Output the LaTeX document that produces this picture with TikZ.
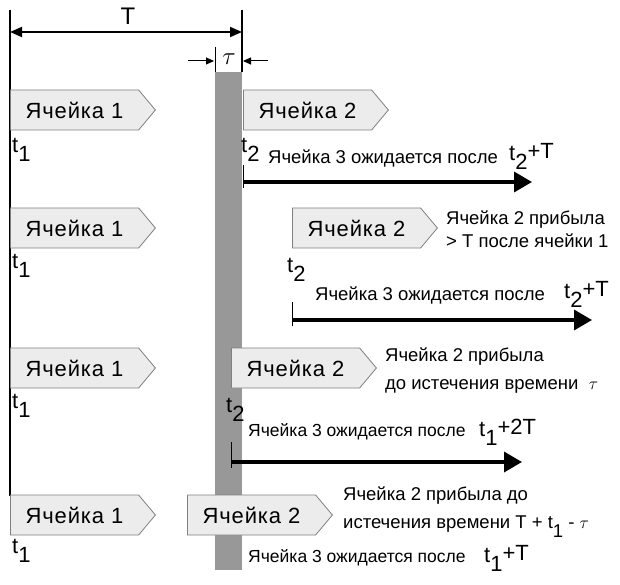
\documentclass[tikz,border=0pt]{standalone}
\usepackage{fontspec}
\setmainfont{Liberation Sans}
\newfontfamily\cellfont[LetterSpace=4]{Liberation Sans}
\usetikzlibrary{shapes.symbols,arrows.meta,positioning}

\tikzset{
  cell/.style={signal, signal to=east, signal pointer angle=100,
    draw=gray, line width=0.8pt, fill=gray!15, minimum height=40pt, minimum width=145pt,
    inner sep=0pt, font=\cellfont\fontsize{22}{24}\selectfont, anchor=west},
  note/.style={font=\fontsize{18.5}{28}\selectfont, anchor=west, inner sep=0pt, align=left},
  small note/.style={note, font=\fontsize{17.5}{28}\selectfont},
  tlab/.style={font=\fontsize{22}{24}\selectfont, anchor=north west, inner sep=0pt},
  wait/.style={line width=3.5pt, -{Triangle[length=18pt,width=20pt]}},
  dim/.style={line width=1.8pt, {Triangle[length=12pt,width=10pt]}-{Triangle[length=12pt,width=10pt]}},
  tick/.style={line width=1pt}
}
\newcommand{\sub}[2]{t\raisebox{-9pt}{#1}\raisebox{2pt}{#2}}

\begin{document}
\begin{tikzpicture}[x=1pt,y=-1pt]
  \useasboundingbox (0,0) rectangle (620,585);

  % time axis and slot
  \fill[gray!85!black!70] (215,72) rectangle (242,570);
  \coordinate (top1) at (10,10);
  \coordinate (bot1) at (10,496);
  \coordinate (top2) at (242,10);
  \coordinate (bot2) at (242,72);
  \draw[line width=1.2pt] (top1) -- (bot1);
  \draw[line width=1.2pt] (top2) -- (bot2);
  \draw[line width=1pt] (215,47) -- (215,72);

  % T and tau
  \coordinate (tl) at (10,32);
  \coordinate (tr) at (242,32);
  \draw[dim] (tl) -- (tr);
  \node[font=\fontsize{24}{26}\selectfont] (T) at (128,16) {T};
  \coordinate (ta) at (188,61);
  \coordinate (tb) at (214,61);
  \coordinate (tc) at (268,61);
  \coordinate (td) at (243,61);
  \draw[-{Triangle[length=8pt,width=7pt]}, line width=1pt] (ta) -- (tb);
  \draw[-{Triangle[length=8pt,width=7pt]}, line width=1pt] (tc) -- (td);
  \node[font=\fontsize{24}{26}\selectfont] (tau) at (229,59) {$\tau$};

  % row 1
  \node[cell] (a1) at (10,110) {Ячейка 1};
  \node[cell] (b1) at (243,110) {Ячейка 2};
  \node[tlab] (ta1) at (12,138) {\sub{1}{}};
  \node[tlab] (tb1) at (241,138) {\sub{2}{}};
  \node[note] (w1) at (268,158) {Ячейка 3 ожидается после};
  \node[tlab] (e1) at (509,143) {\sub{2}{+T}};
  \coordinate (s1) at (243,182);
  \coordinate (f1) at (532,182);
  \draw[tick] (243,165) -- (243,188);
  \draw[wait] (s1) -- (f1);

  % row 2
  \node[cell] (a2) at (10,228) {Ячейка 1};
  \node[cell] (b2) at (292,228) {Ячейка 2};
  \node[note] (n2) at (446,229) {Ячейка 2 прибыла\\[-5pt]> T после ячейки 1};
  \node[tlab] (ta2) at (12,254) {\sub{1}{}};
  \node[tlab] (tb2) at (287,258) {\sub{2}{}};
  \node[note] (w2) at (315,295) {Ячейка 3 ожидается после};
  \node[tlab] (e2) at (564,281) {\sub{2}{+T}};
  \coordinate (s2) at (292,320);
  \coordinate (f2) at (592,320);
  \draw[tick] (292,302) -- (292,326);
  \draw[wait] (s2) -- (f2);

  % row 3
  \node[cell] (a3) at (10,368) {Ячейка 1};
  \node[cell] (b3) at (231,368) {Ячейка 2};
  \node[note] (n3) at (385,371) {Ячейка 2 прибыла\\до истечения времени~~$\tau$};
  \node[tlab] (ta3) at (12,394) {\sub{1}{}};
  \node[tlab] (tb3) at (226,398) {\sub{2}{}};
  \node[small note] (w3) at (248,432) {Ячейка 3 ожидается после};
  \node[tlab] (e3) at (479,419) {\sub{1}{+2T}};
  \coordinate (s3) at (231,462);
  \coordinate (f3) at (522,462);
  \draw[tick] (231,442) -- (231,468);
  \draw[wait] (s3) -- (f3);

  % row 4
  \node[cell] (a4) at (10,515) {Ячейка 1};
  \node[cell] (b4) at (187,515) {Ячейка 2};
  \node[note] (n4) at (343,512) {Ячейка 2 прибыла до\\истечения времени T + \sub{1}{} - $\tau$};
  \node[tlab] (ta4) at (12,539) {\sub{1}{}};
  \node[small note] (w4) at (248,558) {Ячейка 3 ожидается после};
  \node[tlab] (e4) at (484,545) {\sub{1}{+T}};
\end{tikzpicture}
\end{document}
